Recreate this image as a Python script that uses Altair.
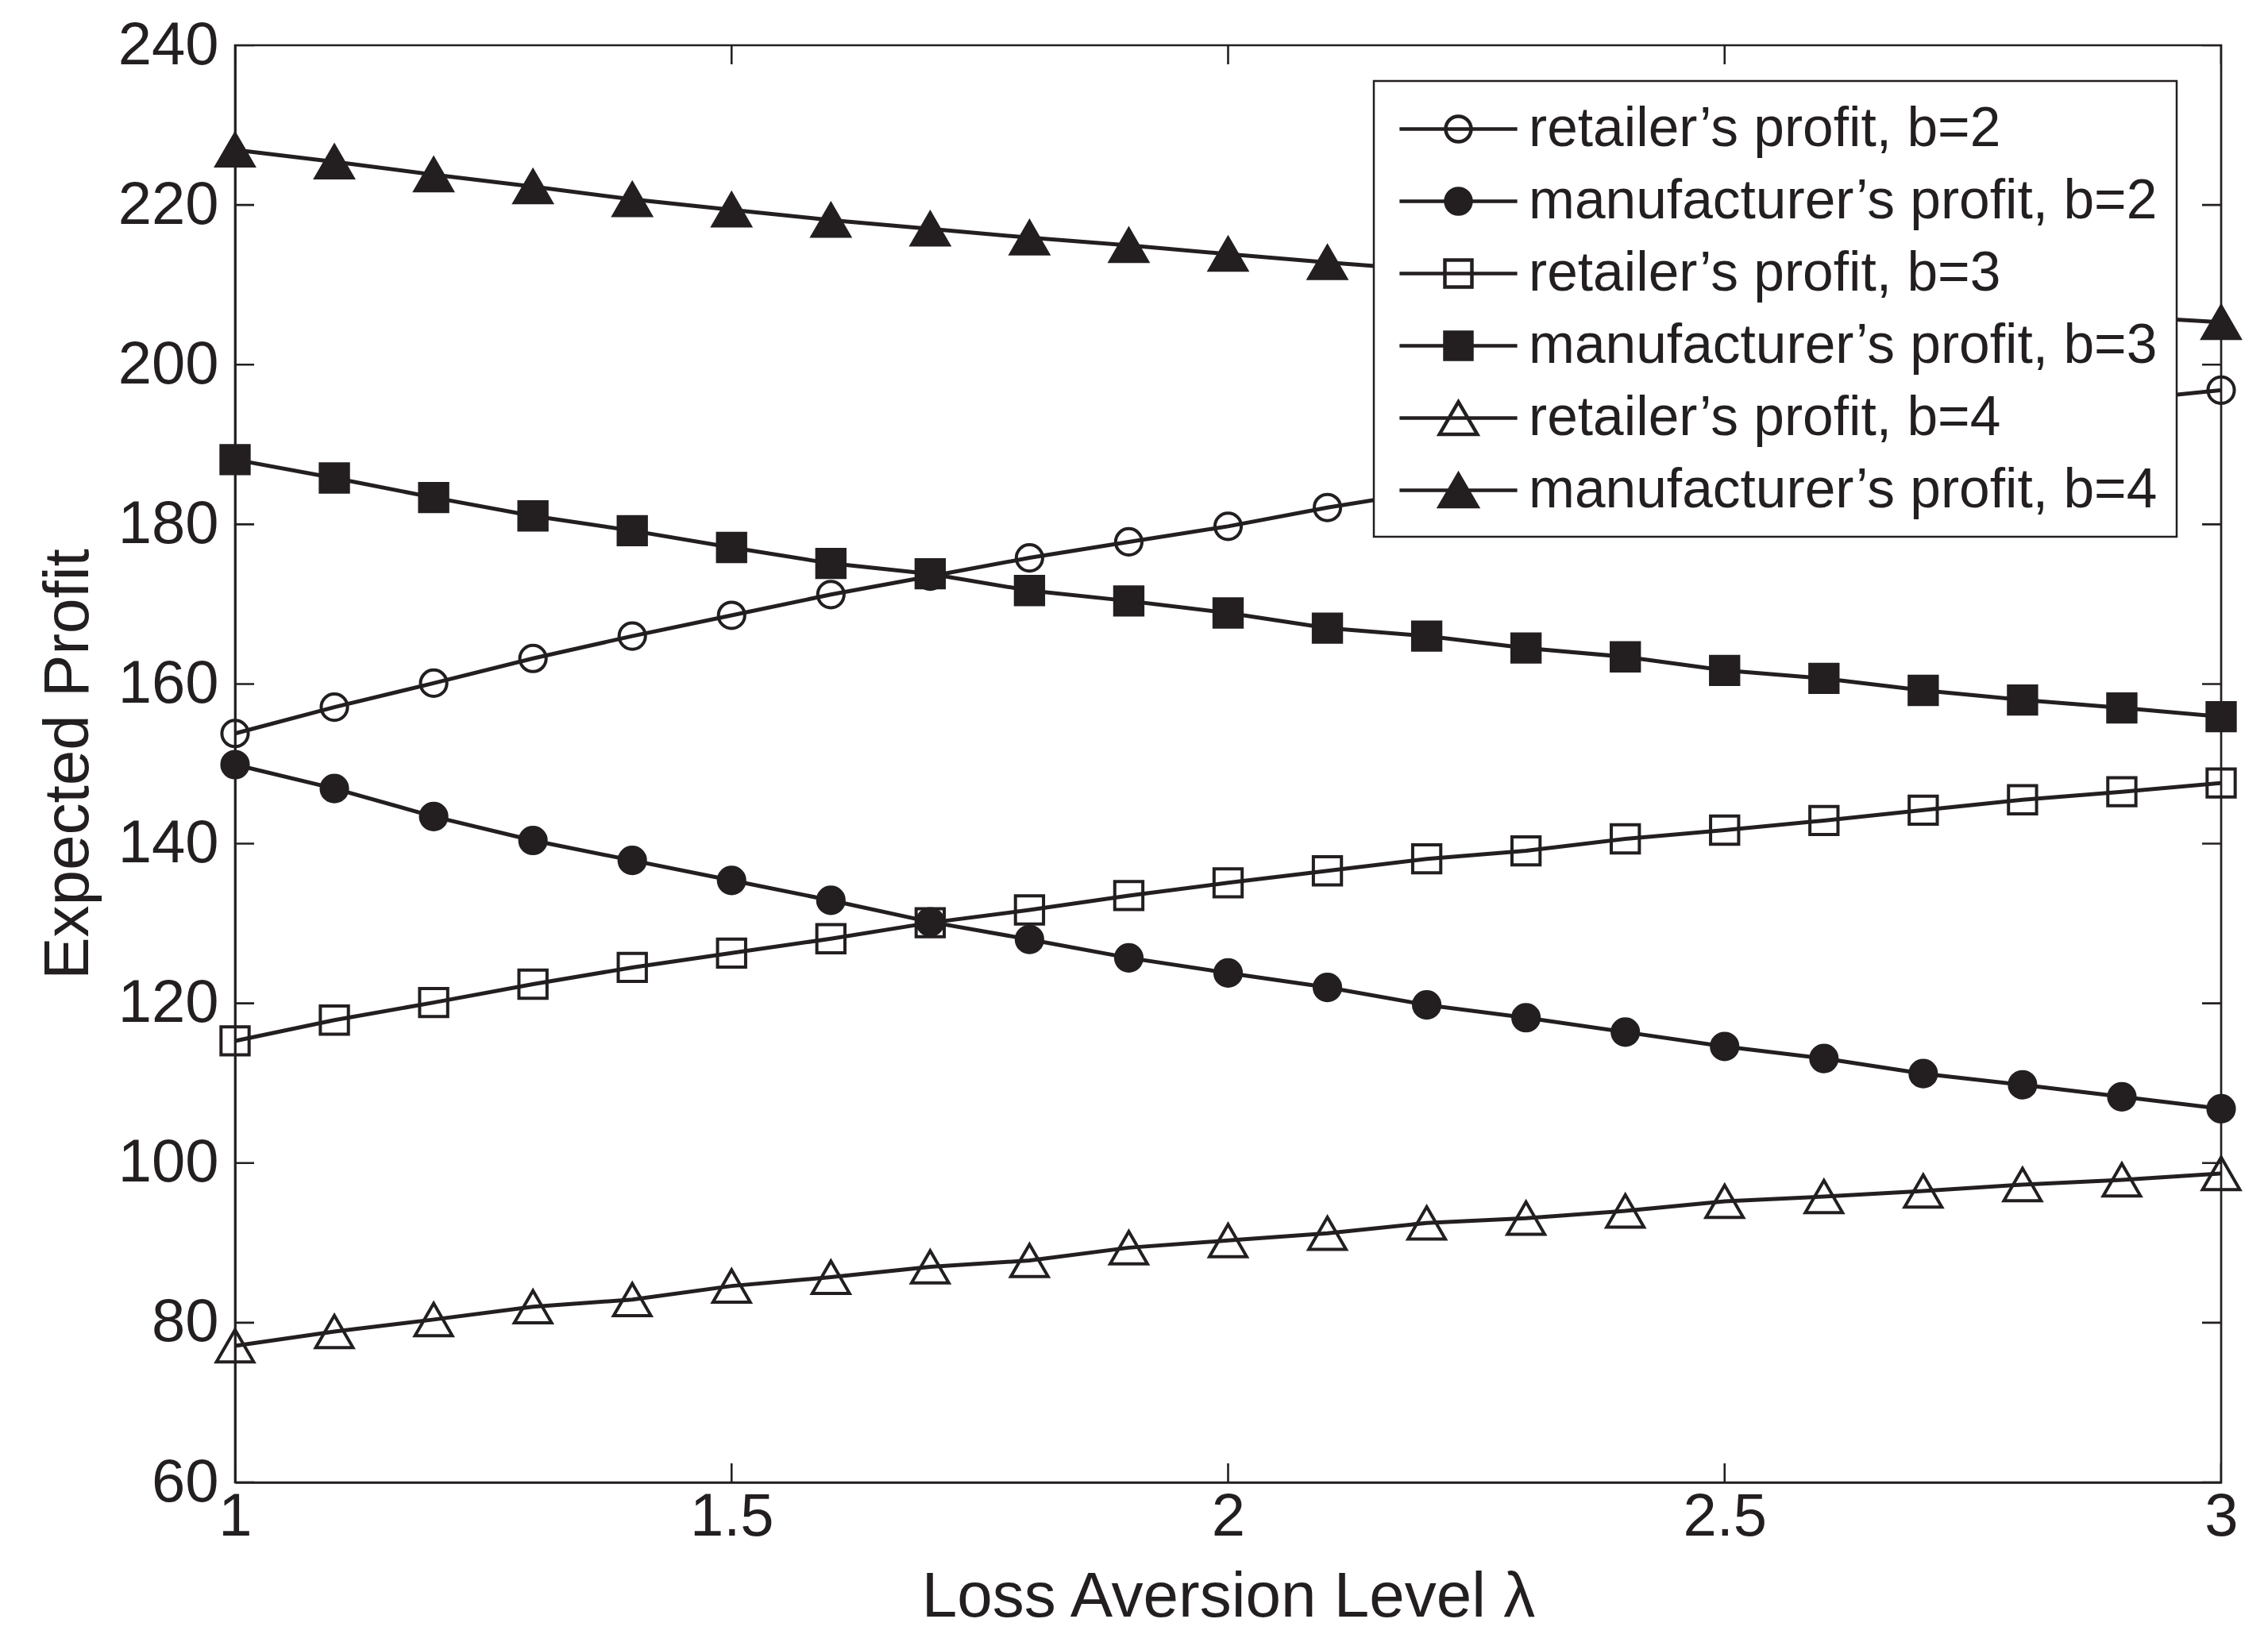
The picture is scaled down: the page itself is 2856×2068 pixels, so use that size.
import altair as alt
import pandas as pd

# ---------------- data ----------------
lam = [1.0, 1.1, 1.2, 1.3, 1.4, 1.5, 1.6, 1.7, 1.8, 1.9, 2.0,
       2.1, 2.2, 2.3, 2.4, 2.5, 2.6, 2.7, 2.8, 2.9, 3.0]

retailer_b2 = [153.8, 157.1, 160.1, 163.2, 166.0, 168.6, 171.2, 173.5, 175.8, 177.8, 179.75,
               182.1, 184.1, 186.0, 187.8, 189.55, 191.2, 192.75, 194.2, 195.55, 196.8]
manufacturer_b2 = [149.9, 146.9, 143.4, 140.4, 137.9, 135.4, 132.9, 130.2, 128.0, 125.7, 123.8,
                   122.0, 119.8, 118.2, 116.4, 114.6, 113.1, 111.2, 109.8, 108.3, 106.8]
retailer_b3 = [115.3, 117.9, 120.1, 122.4, 124.5, 126.3, 128.1, 130.1, 131.7, 133.5, 135.1,
               136.6, 138.1, 139.1, 140.6, 141.7, 142.9, 144.2, 145.5, 146.5, 147.6]
manufacturer_b3 = [188.1, 185.8, 183.35, 181.05, 179.2, 177.1, 175.1, 173.8, 171.7, 170.4, 168.9,
                   167.0, 166.0, 164.5, 163.4, 161.7, 160.7, 159.2, 158.0, 157.0, 155.9]
retailer_b4 = [77.1, 78.9, 80.4, 82.0, 82.9, 84.6, 85.7, 87.0, 87.8, 89.4, 90.3,
               91.2, 92.5, 93.1, 94.0, 95.2, 95.8, 96.5, 97.3, 97.9, 98.7]
manufacturer_b4 = [226.9, 225.4, 223.8, 222.3, 220.7, 219.4, 218.1, 217.0, 215.9, 214.95, 213.85,
                   212.8, 211.85, 210.95, 210.1, 209.25, 208.45, 207.65, 206.85, 206.05, 205.3]

series_labels = [
    "retailer\u2019s profit, b=2",
    "manufacturer\u2019s profit, b=2",
    "retailer\u2019s profit, b=3",
    "manufacturer\u2019s profit, b=3",
    "retailer\u2019s profit, b=4",
    "manufacturer\u2019s profit, b=4",
]
series_values = [retailer_b2, manufacturer_b2, retailer_b3,
                 manufacturer_b3, retailer_b4, manufacturer_b4]

x_ticks = [1, 1.5, 2, 2.5, 3]
y_ticks = [60, 80, 100, 120, 140, 160, 180, 200, 220, 240]

x_title = "Loss Aversion Level \u03bb"
y_title = "Expected Profit"

# ---------------- styles ----------------
FONT = "Liberation Sans, Arial, Helvetica, sans-serif"
INK = "#231f20"
plot_shapes = ["circle", "circle", "square", "square", "triangle-up", "triangle-up"]
marker_fills = ["transparent", INK, "transparent", INK, "transparent", INK]
marker_sizes = [1100, 1100, 1250, 1250, 2200, 2200]
# legend symbols: a line segment with the marker in its middle (unit = 34 px)
legend_paths = [
    "M-2.18,0H2.18M0.47,0A0.47,0.47,0,1,1,-0.47,0A0.47,0.47,0,1,1,0.47,0Z",
    "M-2.18,0H2.18M0.47,0A0.47,0.47,0,1,1,-0.47,0A0.47,0.47,0,1,1,0.47,0Z",
    "M-2.18,0H2.18M-0.5,-0.5H0.5V0.5H-0.5Z",
    "M-2.18,0H2.18M-0.5,-0.5H0.5V0.5H-0.5Z",
    "M-2.18,0H2.18M0,-0.6L0.7,0.6L-0.7,0.6Z",
    "M-2.18,0H2.18M0,-0.6L0.7,0.6L-0.7,0.6Z",
]

rows = []
for name, vals, shp, fc, sz in zip(series_labels, series_values, plot_shapes, marker_fills, marker_sizes):
    for l, v in zip(lam, vals):
        rows.append({"lam": l, "profit": v, "series": name, "mk": shp, "fc": fc, "sz": sz})
df = pd.DataFrame(rows)

ytick_df = pd.DataFrame([{"lam": xe, "profit": v} for v in y_ticks for xe in (x_ticks[0], x_ticks[-1])])
xtick_df = pd.DataFrame([{"lam": v, "profit": ye} for v in x_ticks for ye in (y_ticks[0], y_ticks[-1])])

W, H = 2501, 1810

x_enc = alt.X(
    "lam:Q",
    scale=alt.Scale(domain=[x_ticks[0], x_ticks[-1]], nice=False, zero=False),
    axis=alt.Axis(values=x_ticks, format="~g", title=x_title, labelFlush=False,
                  labelPadding=6, titlePadding=24, labelFontSize=76, titleFontSize=80),
)
y_enc = alt.Y(
    "profit:Q",
    scale=alt.Scale(domain=[y_ticks[0], y_ticks[-1]], nice=False, zero=False),
    axis=alt.Axis(values=y_ticks, format="d", title=y_title, labelFlush=False,
                  labelPadding=21, titlePadding=21, labelFontSize=76, titleFontSize=80),
)

lines = alt.Chart(df).mark_line(color=INK, strokeWidth=5).encode(
    x=x_enc, y=y_enc, detail="series:N"
)

points = alt.Chart(df).mark_point(stroke=INK, strokeWidth=4, opacity=1).encode(
    x="lam:Q",
    y="profit:Q",
    shape=alt.Shape("mk:N", scale=None),
    fill=alt.Fill("fc:N", scale=None),
    size=alt.Size("sz:Q", scale=None),
)

legend_spec = alt.Legend(
    title=None, orient="none", legendX=1434, legendY=45, direction="vertical",
    labelFont=FONT, labelFontSize=69.5, labelColor=INK, labelLimit=3000, labelOffset=52,
    symbolSize=4624, symbolOffset=46, symbolStrokeWidth=4.5, symbolStrokeColor=INK, symbolOpacity=1,
    strokeColor=INK, fillColor="white", padding=24, rowPadding=20,
)

legend_layer = alt.Chart(df).transform_filter("datum.lam > 99").mark_point(
    stroke=INK, strokeWidth=4.5, opacity=1
).encode(
    x="lam:Q",
    y="profit:Q",
    shape=alt.Shape("series:N", scale=alt.Scale(domain=series_labels, range=legend_paths), legend=legend_spec),
    fill=alt.Fill("series:N", scale=alt.Scale(domain=series_labels, range=marker_fills), legend=legend_spec),
)

yticks = alt.Chart(ytick_df).mark_tick(orient="horizontal", size=48, thickness=2.6, color=INK,
                                       clip=True, opacity=1).encode(x="lam:Q", y="profit:Q")
xticks = alt.Chart(xtick_df).mark_tick(orient="vertical", size=48, thickness=2.6, color=INK,
                                       clip=True, opacity=1).encode(x="lam:Q", y="profit:Q")

chart = alt.layer(lines, points, yticks, xticks, legend_layer).properties(
    width=W, height=H,
    autosize=alt.AutoSizeParams(type="none"),
    padding={"left": 288, "top": 49, "right": 51, "bottom": 193},
    background="white",
).configure_view(
    stroke=INK, strokeWidth=2.7
).configure_axis(
    grid=False, ticks=False, domainColor=INK, domainWidth=2.7,
    labelFont=FONT, titleFont=FONT, labelColor=INK, titleColor=INK,
    titleFontWeight="normal",
).configure_legend(
    strokeWidth=2.5
)

chart.save("out.html", embed_options={"renderer": "svg", "actions": False})
